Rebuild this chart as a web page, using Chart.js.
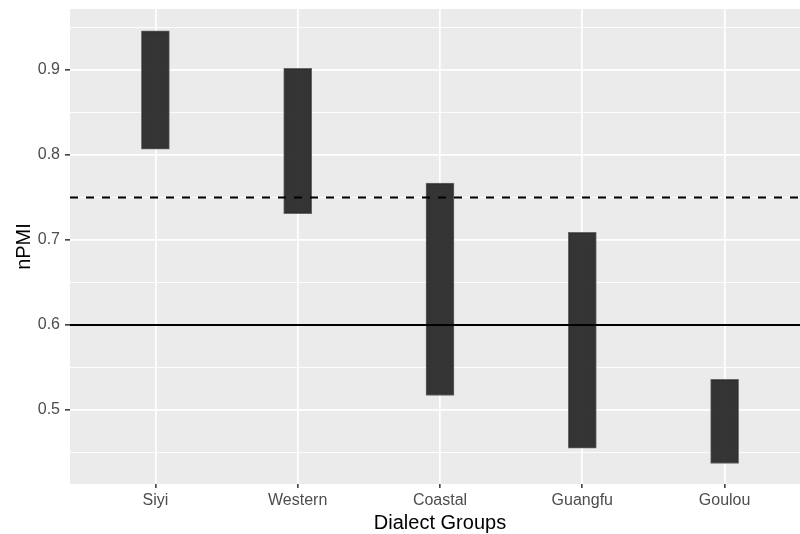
<!DOCTYPE html>
<html lang="en">
<head>
    <meta charset="UTF-8">
    <title>nPMI by Dialect Group</title>
    <script src="https://cdn.jsdelivr.net/npm/chart.js"></script>
    <style>
        body { margin: 0; overflow: hidden; background: #fff; }
        #wrap { width: 810px; height: 534px; position: relative; }
    </style>
</head>
<body>
    <div id="wrap"><canvas id="myChart"></canvas></div>

    <script>
        // data
        const groups = ['Siyi', 'Western', 'Coastal', 'Guangfu', 'Goulou'];
        const lowValues = [0.807, 0.731, 0.517, 0.455, 0.437];
        const highValues = [0.946, 0.902, 0.767, 0.709, 0.536];
        const dashedRef = 0.75;
        const solidRef = 0.6;
        const yTicks = [0.45, 0.5, 0.55, 0.6, 0.65, 0.7, 0.75, 0.8, 0.85, 0.9, 0.95];

        const xMin = -0.6, xMax = groups.length - 1 + 0.6;
        const isMajor = v => Math.abs(v * 10 - Math.round(v * 10)) < 1e-6;

        // grey ggplot panel
        const panelBg = {
            id: 'panelBg',
            beforeDraw(chart) {
                const { ctx, chartArea: a } = chart;
                ctx.save();
                ctx.fillStyle = '#EBEBEB';
                ctx.fillRect(a.left, a.top, a.right - a.left, a.bottom - a.top);
                ctx.restore();
            }
        };

        const ctx = document.getElementById('myChart').getContext('2d');
        const myChart = new Chart(ctx, {
            type: 'bar',
            data: {
                datasets: [
                    {
                        type: 'line',
                        data: [{ x: xMin, y: dashedRef }, { x: xMax, y: dashedRef }],
                        borderColor: '#000',
                        borderWidth: 1.8,
                        borderDash: [8, 8],
                        pointRadius: 0,
                        order: 0
                    },
                    {
                        type: 'line',
                        data: [{ x: xMin, y: solidRef }, { x: xMax, y: solidRef }],
                        borderColor: '#000',
                        borderWidth: 1.8,
                        pointRadius: 0,
                        order: 0
                    },
                    {
                        data: groups.map((g, i) => ({ x: i, y: [lowValues[i], highValues[i]] })),
                        backgroundColor: 'rgba(38,38,38,0.93)',
                        borderColor: 'rgba(90,90,90,0.9)',
                        borderWidth: 1,
                        borderSkipped: false,
                        barThickness: 28,
                        order: 1
                    }
                ]
            },
            options: {
                responsive: true,
                maintainAspectRatio: false,
                animation: false,
                layout: { padding: { top: 9, left: 0, right: 0, bottom: 0 } },
                plugins: { legend: { display: false }, tooltip: { enabled: false } },
                scales: {
                    x: {
                        type: 'linear',
                        min: xMin,
                        max: xMax,
                        offset: false,
                        afterBuildTicks: s => { s.ticks = groups.map((g, i) => ({ value: i })); },
                        afterFit: s => { s.height = 50; s.paddingLeft = 0; s.paddingRight = 0; },
                        border: { display: false },
                        grid: {
                            offset: false,
                            color: '#FFFFFF',
                            lineWidth: 1.7,
                            drawTicks: true,
                            tickLength: 4,
                            tickColor: '#333333',
                            tickWidth: 1.5
                        },
                        ticks: {
                            autoSkip: false,
                            maxRotation: 0,
                            padding: 3,
                            color: '#4D4D4D',
                            font: { family: '"Liberation Sans", Arial, sans-serif', size: 16 },
                            callback: v => groups[v]
                        },
                        title: {
                            display: true,
                            text: 'Dialect Groups',
                            color: '#000',
                            padding: { top: 0, bottom: 0 },
                            font: { family: '"Liberation Sans", Arial, sans-serif', size: 20, lineHeight: 1.1 }
                        }
                    },
                    y: {
                        min: 0.4129,
                        max: 0.9718,
                        afterBuildTicks: s => { s.ticks = yTicks.map(v => ({ value: v })); },
                        afterFit: s => { s.width = 70; s.paddingTop = 0; s.paddingBottom = 0; },
                        border: { display: false },
                        grid: {
                            color: '#FFFFFF',
                            lineWidth: c => isMajor(c.tick.value) ? 1.7 : 0.9,
                            drawTicks: true,
                            tickLength: 5,
                            tickColor: c => isMajor(c.tick.value) ? '#333333' : 'rgba(0,0,0,0)',
                            tickWidth: 1.5
                        },
                        ticks: {
                            autoSkip: false,
                            padding: 5,
                            color: '#4D4D4D',
                            font: { family: '"Liberation Sans", Arial, sans-serif', size: 16 },
                            callback: v => isMajor(v) ? v.toFixed(1) : ''
                        },
                        title: {
                            display: true,
                            text: 'nPMI',
                            color: '#000',
                            padding: { top: 12, bottom: 0 },
                            font: { family: '"Liberation Sans", Arial, sans-serif', size: 20, lineHeight: 1.2 }
                        }
                    }
                }
            },
            plugins: [panelBg]
        });
    </script>
</body>
</html>
